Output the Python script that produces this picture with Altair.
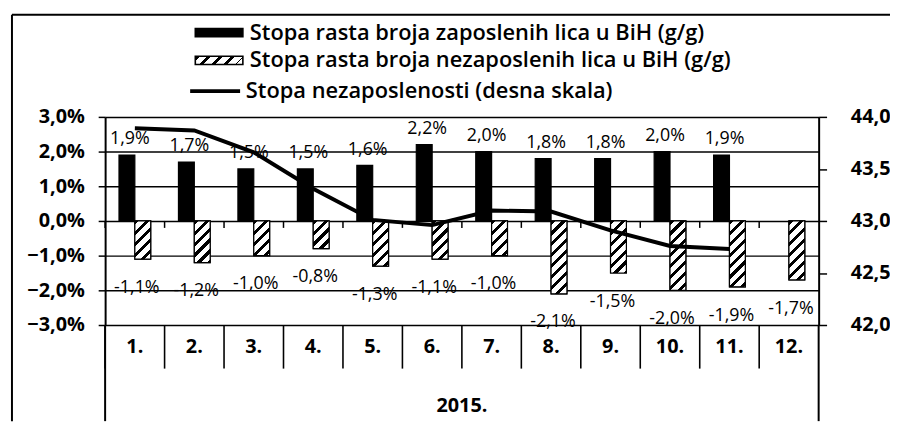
import altair as alt
import pandas as pd

# ---------------- data ----------------
months = ["1.", "2.", "3.", "4.", "5.", "6.", "7.", "8.", "9.", "10.", "11.", "12."]
employed = [1.9, 1.7, 1.5, 1.5, 1.6, 2.2, 2.0, 1.8, 1.8, 2.0, 1.9, None]
unemployed = [-1.1, -1.2, -1.0, -0.8, -1.3, -1.1, -1.0, -2.1, -1.5, -2.0, -1.9, -1.7]
unemployment_rate = [43.89, 43.87, 43.66, 43.31, 43.01, 42.96, 43.10, 43.09, 42.91, 42.76, 42.73, None]
left_ticks = [-3, -2, -1, 0, 1, 2, 3]
right_ticks = [42.0, 42.5, 43.0, 43.5, 44.0]
year_label = "2015."
S1 = "Stopa rasta broja zaposlenih lica u BiH (g/g)"
S2 = "Stopa rasta broja nezaposlenih lica u BiH (g/g)"
S3 = "Stopa nezaposlenosti (desna skala)"

# ---------------- layout ----------------
W, H = 720, 210
PX_PER_UNIT = H / (left_ticks[-1] - left_ticks[0])
BAR_W = 16
FONT = "Open Sans"


def fmt(v):
    return f"{v:.1f}".replace(".", ",") + "%"


rows = []
for m, e, u in zip(months, employed, unemployed):
    if e is not None:
        rows.append(dict(month=m, series=S1, value=e, label=fmt(e), z0=0.0, z1=-0.2))
    if u is not None:
        rows.append(dict(month=m, series=S2, value=u, label=fmt(u), z0=0.0, z1=-0.2))
bars = pd.DataFrame(rows)
line_df = pd.DataFrame(
    [dict(month=m, rate=r, s=S3) for m, r in zip(months, unemployment_rate) if r is not None]
)
month_df = pd.DataFrame({"month": months})
one = pd.DataFrame({"k": [0]})

x_scale = alt.Scale(domain=months, paddingInner=0, paddingOuter=0)
xo_scale = alt.Scale(domain=[S1, S2], paddingInner=0, paddingOuter=0.875)


def yscale():
    return alt.Scale(domain=[left_ticks[0], left_ticks[-1]], nice=False, zero=False)


def xenc(**kw):
    return alt.X("month:N", scale=x_scale, axis=None, **kw)


def hatch_stops(h_px, w_px, period=11.0, black=4.2):
    """Hard-edged stops of a diagonal '/' stripe pattern in bounding-box units."""
    r = h_px / w_px
    k = 1.0 / (w_px * (1.0 + r * r))
    total = w_px + h_px
    stops = []
    s = 0.0
    while s < total:
        a = min(s * k, 1.0)
        b = min(min(s + black, total) * k, 1.0)
        c = min((s + period) * k, 1.0)
        stops += [(round(a, 5), "black"), (round(b, 5), "black"),
                  (round(b, 5), "white"), (round(c, 5), "white")]
        s += period
    return r, stops


def hatch_fill(h_px, w_px=BAR_W):
    r, stops = hatch_stops(h_px, w_px)
    return alt.LinearGradient(
        gradient="linear",
        stops=[alt.GradientStop(offset=o, color=c) for o, c in stops],
        x1=0, y1=0, x2=1, y2=round(r, 5),
    )


def hatch_expr(h_px, w_px):
    r, stops = hatch_stops(h_px, w_px, period=12.0, black=4.5)
    st = ",".join("{offset:%s,color:'%s'}" % (o, c) for o, c in stops)
    return "{gradient:'linear',x1:0,y1:0,x2:1,y2:%s,stops:[%s]}" % (round(r, 5), st)


y_axis = alt.Axis(
    values=left_ticks, grid=True, gridColor="black", gridWidth=1.5,
    domainWidth=2, tickSize=7, tickWidth=1.5, labelPadding=14, title=None,
    labelExpr="replace(format(datum.value, '.1f'), '.', ',') + '%'",
)

rect_path = "M-4,-0.7L4,-0.7L4,0.7L-4,0.7Z"
line_path = "M-4.2,0L4.2,0"

base = alt.Chart(bars).mark_bar(stroke="black", strokeWidth=1.2).encode(
    x=xenc(),
    xOffset=alt.XOffset("series:N", scale=xo_scale),
    y=alt.Y("value:Q", scale=yscale(), axis=y_axis),
    color=alt.Color(
        "series:N",
        scale=alt.Scale(domain=[S1, S2],
                        range=["black", {"expr": hatch_expr(8.4, 48)}]),
        legend=alt.Legend(
            title=None, orient="none", legendX=104, legendY=-96, symbolType=rect_path,
            symbolSize=144, symbolStrokeColor="black", symbolStrokeWidth=1.6,
            labelLimit=700, rowPadding=6, labelOffset=20,
        ),
    ),
)

hatch_layers = []
for m, u in zip(months, unemployed):
    if u is None:
        continue
    hatch_layers.append(
        alt.Chart(bars)
        .transform_filter((alt.datum.series == S2) & (alt.datum.month == m))
        .mark_bar(fill=hatch_fill(abs(u) * PX_PER_UNIT), stroke="black", strokeWidth=1.2)
        .encode(
            x=xenc(),
            xOffset=alt.XOffset("series:N", scale=xo_scale),
            y=alt.Y("value:Q", scale=yscale(), axis=None),
        )
    )

# small category ticks on the zero line
zero_ticks = (
    alt.Chart(bars)
    .transform_filter(alt.datum.series == S2)
    .mark_rule(color="black", strokeWidth=1.5)
    .encode(
        x=xenc(bandPosition=0),
        y=alt.Y("z0:Q", scale=yscale(), axis=None),
        y2="z1:Q",
    )
)

# category axis: separators, month labels and the year
cat_seps = alt.Chart(month_df).mark_rule(color="black", strokeWidth=1.6).encode(
    x=xenc(bandPosition=0), y=alt.value(H), y2=alt.value(H + 44))
cat_labels = alt.Chart(month_df).mark_text(
    fontSize=20, fontWeight="bold", color="black", baseline="middle"
).encode(x=xenc(), y=alt.value(H + 22), text="month:N")
year_text = alt.Chart(one).mark_text(
    fontSize=20, fontWeight="bold", color="black", baseline="middle", text=year_label
).encode(x=alt.value(W / 2), y=alt.value(H + 82))

pos_labels = (
    alt.Chart(bars)
    .transform_filter(alt.datum.series == S1)
    .mark_text(dy=-16, dx=-5, fontSize=18, color="black", baseline="middle")
    .encode(x=xenc(), y=alt.Y("value:Q", scale=yscale(), axis=None), text="label:N")
)
neg_labels = (
    alt.Chart(bars)
    .transform_filter(alt.datum.series == S2)
    .mark_text(dy=29, dx=2, fontSize=18, color="black", baseline="middle")
    .encode(x=xenc(), y=alt.Y("value:Q", scale=yscale(), axis=None), text="label:N")
)

frame_style = dict(color="black", strokeWidth=2)
sep_left = alt.Chart(one).mark_rule(**frame_style).encode(
    x=alt.value(0), y=alt.value(H), y2=alt.value(H + 97))
sep_right = alt.Chart(one).mark_rule(**frame_style).encode(
    x=alt.value(W), y=alt.value(H), y2=alt.value(H + 97))
border_left = alt.Chart(one).mark_rule(**frame_style).encode(
    x=alt.value(-94), y=alt.value(-103), y2=alt.value(H + 97))
border_top = alt.Chart(one).mark_rule(**frame_style).encode(
    x=alt.value(-94), x2=alt.value(W + 72), y=alt.value(-103))

line = alt.Chart(line_df).mark_line(strokeWidth=4, color="black").encode(
    x=xenc(),
    y=alt.Y(
        "rate:Q",
        scale=alt.Scale(domain=[right_ticks[0], right_ticks[-1]], nice=False, zero=False),
        axis=alt.Axis(
            orient="right", values=right_ticks, grid=False, domainWidth=2, tickSize=8,
            tickWidth=1.5, labelPadding=24, title=None,
            labelExpr="replace(format(datum.value, '.1f'), '.', ',')",
        ),
    ),
    stroke=alt.Stroke(
        "s:N",
        scale=alt.Scale(domain=[S3], range=["black"]),
        legend=alt.Legend(
            title=None, orient="none", legendX=100, legendY=-37, symbolType=line_path,
            symbolSize=144, symbolStrokeWidth=4, labelLimit=700, labelOffset=20,
        ),
    ),
)

chart = (
    alt.layer(base, *hatch_layers, zero_ticks, cat_seps, cat_labels, year_text,
              pos_labels, neg_labels, sep_left, sep_right, border_left, border_top, line)
    .resolve_scale(y="independent")
    .properties(
        width=W, height=H, autosize="none",
        padding={"left": 98, "top": 108, "right": 72, "bottom": 97},
    )
    .configure(font=FONT)
    .configure_view(strokeWidth=0)
    .configure_axis(
        labelFont=FONT, labelFontSize=20, labelFontWeight="bold", labelColor="black",
        domainColor="black", tickColor="black", titleFont=FONT,
    )
    .configure_legend(
        labelFont=FONT, labelFontSize=22, labelFontWeight=600, labelColor="black",
        padding=0,
    )
    .configure_text(font=FONT)
)

chart.save("out.html", embed_options={"renderer": "svg", "actions": False})
